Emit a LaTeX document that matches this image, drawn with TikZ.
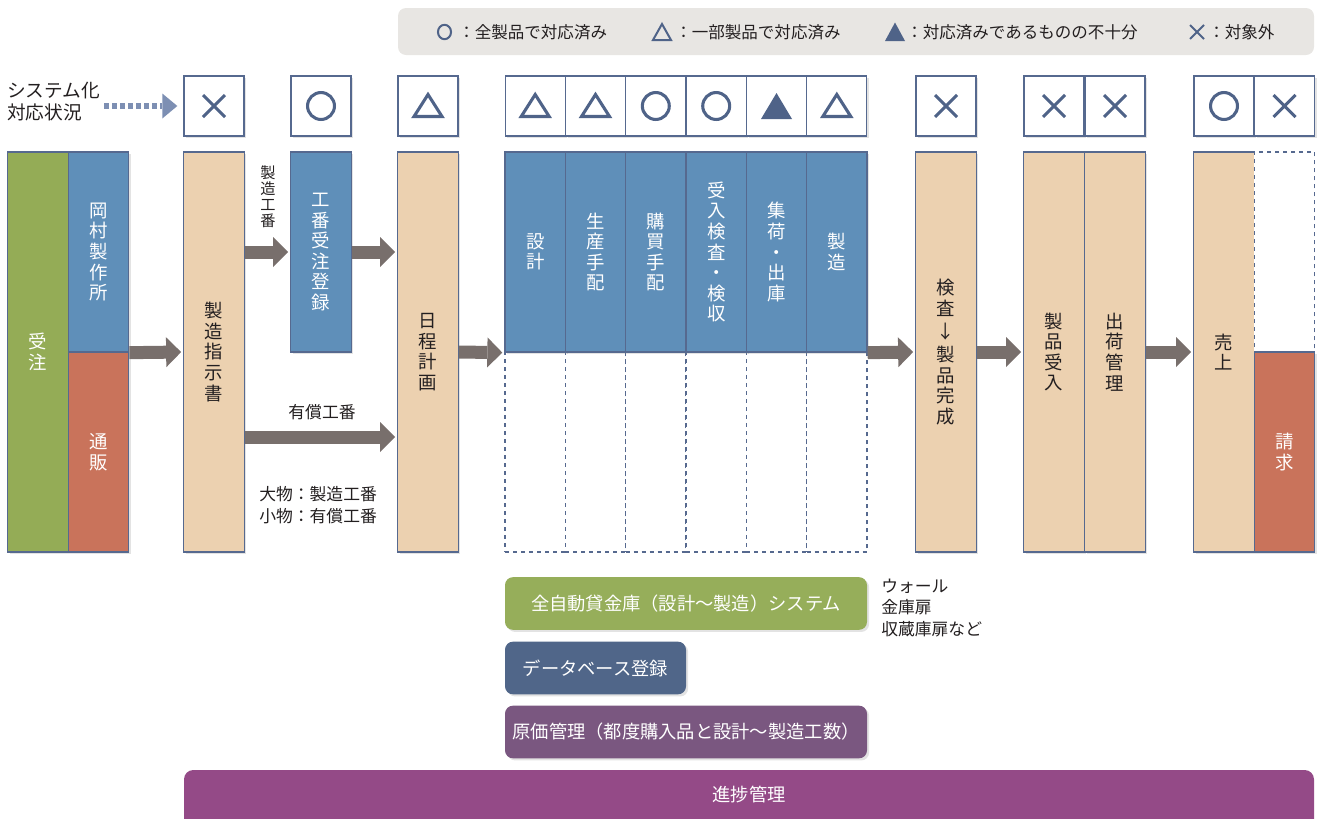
\documentclass[tikz,border=0pt]{standalone}
\usepackage{fontspec}
\setmainfont{Noto Sans CJK JP}
\usetikzlibrary{arrows.meta,shadows,calc}
\definecolor{cgreen}{HTML}{94AC56}
\definecolor{cgreenb}{HTML}{96AE5A}
\definecolor{cblue}{HTML}{5F8FB9}
\definecolor{cred}{HTML}{C9735B}
\definecolor{ctan}{HTML}{ECD1B0}
\definecolor{cborder}{HTML}{56698F}
\definecolor{carrow}{HTML}{786F6C}
\definecolor{csym}{HTML}{4F6388}
\definecolor{clegend}{HTML}{E8E6E3}
\definecolor{cdb}{HTML}{506689}
\definecolor{cpurple}{HTML}{7A5780}
\definecolor{cmagenta}{HTML}{944A87}
\definecolor{cdots}{HTML}{7D8FB3}
\definecolor{ctext}{HTML}{231F20}
\newcommand\vfnt{\fontsize{13.8pt}{15.4pt}\selectfont}
\newcommand\hfnt{\fontsize{13.7pt}{17pt}\selectfont}
\newcommand\lfnt{\fontsize{12.4pt}{15pt}\selectfont}
\newcommand\sfnt{\fontsize{12.6pt}{16.3pt}\selectfont}
\newcommand\tfnt{\fontsize{11.4pt}{12pt}\selectfont}
\newcommand\sysfnt{\fontsize{14pt}{16.5pt}\selectfont}
\tikzset{
  shd/.style={drop shadow={opacity=0.22, shadow xshift=1.6pt, shadow yshift=-1.6pt}},
  col/.style={draw=cborder, line width=1pt, inner sep=0pt, minimum width=45.3pt, align=center, font=\vfnt},
  tall/.style={col, minimum height=300pt},
  half/.style={col, minimum height=150pt},
  tanc/.style={fill=ctan, text=ctext},
  bluec/.style={fill=cblue, text=white},
  redc/.style={fill=cred, text=white},
  dashc/.style={col, minimum height=150pt, fill=white, dashed, line width=0.8pt},
  stat/.style={draw=cborder, line width=1pt, fill=white, minimum width=45pt, minimum height=45pt, inner sep=0pt, shd},
  symline/.style={draw=csym, line width=2.3pt},
  maru/.pic={\draw[symline] (0,0) circle[radius=10.1pt];},
  sankaku/.pic={\draw[symline, line join=miter] (0,-11.5) -- (14,10.5) -- (-14,10.5) -- cycle;},
  kuro/.pic={\fill[csym] (0,-13) -- (15.5,13) -- (-15.5,13) -- cycle;},
  batsu/.pic={\draw[symline] (-11,-11) -- (11,11) (-11,11) -- (11,-11);},
  barrow/.style={draw=carrow, line width=9.75pt, shorten >=1.5pt, -{Triangle[length=11.25pt 0 0, width=22.5pt 0 0, line width=0pt]}},
  dotarrow/.style={draw=cdots, line width=5pt, dash pattern=on 3.75pt off 2.25pt, -{Triangle[length=11.25pt 0 0, width=18.75pt 0 0, line width=0pt]}},
  rbox/.style={rounded corners=6pt, inner sep=0pt, minimum height=39.5pt, text=white, font=\hfnt, shd},
  lg/.style={anchor=west, inner sep=0pt, font=\lfnt, text=ctext},
}
\begin{document}
\begin{tikzpicture}[x=0.75pt, y=-0.75pt]
\useasboundingbox (0,0) rectangle (1318,818);

% legend
\fill[clegend, rounded corners=6pt] (398,8) rectangle (1314,55);
\draw[csym, line width=1.5pt] (444.5,32) ellipse[x radius=4.9pt, y radius=5.4pt];
\node[lg] (lg1) at (458,32) {：全製品で対応済み};
\draw[csym, line width=1.5pt, line join=miter] (662,24) -- (671,40) -- (653,40) -- cycle;
\node[lg] (lg2) at (675,32) {：一部製品で対応済み};
\fill[csym] (895,22.5) -- (905,41) -- (885,41) -- cycle;
\node[lg] (lg3) at (906,32) {：対応済みであるものの不十分};
\draw[csym, line width=1.5pt] (1190,25) -- (1204,39) (1190,39) -- (1204,25);
\node[lg] (lg4) at (1208,32) {：対象外};

% system status label
\node[anchor=west, inner sep=0pt, align=left, font=\sysfnt, text=ctext] (sys) at (7,102) {システム化\\対応状況};

% status boxes
\node[stat] (s1) at (214,106) {};
\node[stat] (s2) at (321,106) {};
\node[stat] (s3) at (428,106) {};
\node[stat] (s4) at (535.2,106) {};
\node[stat] (s5) at (595.5,106) {};
\node[stat] (s6) at (655.8,106) {};
\node[stat] (s7) at (716.2,106) {};
\node[stat] (s8) at (776.5,106) {};
\node[stat] (s9) at (836.8,106) {};
\node[stat] (s10) at (946,106) {};
\node[stat] (s11) at (1054,106) {};
\node[stat] (s12) at (1115,106) {};
\node[stat] (s13) at (1224,106) {};
\node[stat] (s14) at (1284.5,106) {};
\pic at (s1.center) {batsu};
\pic at (s2.center) {maru};
\pic at (s3.center) {sankaku};
\pic at (s4.center) {sankaku};
\pic at (s5.center) {sankaku};
\pic at (s6.center) {maru};
\pic at (s7.center) {maru};
\pic at (s8.center) {kuro};
\pic at (s9.center) {sankaku};
\pic at (s10.center) {batsu};
\pic at (s11.center) {batsu};
\pic at (s12.center) {batsu};
\pic at (s13.center) {maru};
\pic at (s14.center) {batsu};

\draw[dotarrow, shorten <=3pt, shorten >=4.5pt] (sys.east |- s1.west) -- (s1.west);

% main flow
\node[tall, fill=cgreen, text=white, shd] (juchu) at (38,352) {受\\注};
\node[half, bluec, shd] (okamura) at (98.5,252) {岡\\村\\製\\作\\所};
\node[half, redc, shd] (tsuhan) at (98.5,452) {通\\販};
\node[tall, tanc, shd] (shiji) at (214,352) {製\\造\\指\\示\\書};
\node[half, bluec, shd] (koban) at (321,252) {工\\番\\受\\注\\登\\録};
\node[tall, tanc, shd] (nittei) at (428,352) {日\\程\\計\\画};

\node[dashc] (d1) at (535.2,452) {};
\node[dashc] (d2) at (595.5,452) {};
\node[dashc] (d3) at (655.8,452) {};
\node[dashc] (d4) at (716.2,452) {};
\node[dashc] (d5) at (776.5,452) {};
\node[dashc] (d6) at (836.8,452) {};
\node[half, bluec, shd] (c1) at (535.2,252) {設\\計};
\node[half, bluec, shd] (c2) at (595.5,252) {生\\産\\手\\配};
\node[half, bluec, shd] (c3) at (655.8,252) {購\\買\\手\\配};
\node[half, bluec, shd] (c4) at (716.2,252) {受\\入\\検\\査\\・\\検\\収};
\node[half, bluec, shd] (c5) at (776.5,252) {集\\荷\\・\\出\\庫};
\node[half, bluec, shd] (c6) at (836.8,252) {製\\造};

\node[tall, tanc, shd] (kensa) at (946,352) {検\\査\\[2pt]↓\\[2pt]製\\品\\完\\成};
\node[tall, tanc, shd] (seihin) at (1054,352) {製\\品\\受\\入};
\node[tall, tanc, shd] (shukka) at (1115,352) {出\\荷\\管\\理};
\node[tall, tanc, shd] (uriage) at (1224,352) {売\\上};
\node[dashc] (blank) at (1284.5,252) {};
\node[half, redc, shd] (seikyu) at (1284.5,452) {請\\求};

% labels
\node[font=\tfnt, align=center, inner sep=0pt, text=ctext] (lblsz) at (268,197) {製\\造\\工\\番};
\node[font=\sfnt, inner sep=0pt, text=ctext] (lblyu) at (322,412) {有償工番};
\node[font=\sfnt, align=left, anchor=west, inner sep=0pt, text=ctext] (lblbig) at (259,505) {大物：製造工番\\小物：有償工番};
\coordinate (ysho) at (300,437);

% arrows
\draw[barrow] (okamura.south east) -- (shiji.west);
\draw[barrow] (shiji.east |- koban.west) -- (koban.west);
\draw[barrow] (koban.east) -- (nittei.west |- koban.east);
\draw[barrow] (shiji.east |- ysho) -- (nittei.west |- ysho);
\draw[barrow] (nittei.east) -- (c1.south west);
\draw[barrow] (c6.south east) -- (kensa.west);
\draw[barrow] (kensa.east) -- (seihin.west);
\draw[barrow] (shukka.east) -- (uriage.west);

% bottom boxes
\node[rbox, fill=cgreenb, minimum width=271.5pt] (zen) at (686,603.5) {全自動貸金庫（設計～製造）システム};
\node[font=\sfnt, align=left, anchor=west, inner sep=0pt, text=ctext] (note) at (881,608) {ウォール\\金庫扉\\収蔵庫扉など};
\node[rbox, fill=cdb, minimum width=135.75pt] (db) at (595.5,668) {データベース登録};
\node[rbox, fill=cpurple, minimum width=271.5pt] (genka) at (686,732) {原価管理（都度購入品と設計～製造工数）};
\fill[cmagenta, rounded corners=7pt] (184,770) rectangle (1314,845);
\node[font=\hfnt, text=white, inner sep=0pt] (prog) at (749,795) {進捗管理};
\end{tikzpicture}
\end{document}
